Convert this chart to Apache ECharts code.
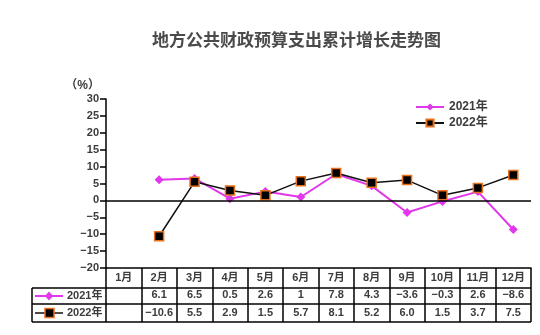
<!DOCTYPE html>
<html>
<head>
<meta charset="utf-8">
<script src="https://cdn.jsdelivr.net/npm/echarts@6/dist/echarts.min.js"></script>
<style>
  html, body { margin: 0; padding: 0; background: #fff; }
  #chart { width: 540px; height: 335px; }
</style>
</head>
<body>
<div id="chart"></div>
<script>
// Cumulative year-on-year growth of local public budget expenditure (%)
const months = ['1月', '2月', '3月', '4月', '5月', '6月', '7月', '8月', '9月', '10月', '11月', '12月'];
const growth2021 = [null, 6.1, 6.5, 0.5, 2.6, 1, 7.8, 4.3, -3.6, -0.3, 2.6, -8.6];
const growth2022 = [null, -10.6, 5.5, 2.9, 1.5, 5.7, 8.1, 5.2, 6.0, 1.5, 3.7, 7.5];
const seriesNames = ['2021年', '2022年'];
const yMin = -20, yMax = 30, yStep = 5;

const FONT = '"Liberation Sans", "Noto Sans CJK SC", sans-serif';
const TEXT = '#3c3c3c';
const MAGENTA = '#e038ea';
const ORANGE = '#e8701e';

const minus = s => String(s).replace('-', '\u2212');
const fmtRaw = v => (v == null ? '' : minus(v));
const fmtOne = v => (v == null ? '' : minus(v.toFixed(1)));

// layout of the plot and the data table beneath it
const G = { left: 106, right: 9, top: 99, bottom: 67 };
const W = 540, H = 335;
const plotBottom = H - G.bottom;
const plotRight = W - G.right;
const tableLeft = 32;
const rowLines = [plotBottom + 20, plotBottom + 36, plotBottom + 54];

const chart = echarts.init(document.getElementById('chart'));

function valueRowAxis(values, fmt, offset) {
  return {
    type: 'category', gridIndex: 0, position: 'bottom', offset: offset,
    data: months, boundaryGap: true,
    axisLine: { show: false }, axisTick: { show: false },
    axisLabel: {
      interval: 0, margin: 0, verticalAlign: 'middle',
      fontFamily: FONT, fontSize: 11, fontWeight: 'bold', color: TEXT,
      formatter: (v, i) => fmt(values[i])
    }
  };
}

function rowKey(y, isSquare) {
  const items = [
    { type: 'line', shape: { x1: 35, y1: y, x2: 63, y2: y },
      style: { stroke: isSquare ? '#111' : MAGENTA, lineWidth: isSquare ? 1.5 : 2 } }
  ];
  if (isSquare) {
    items.push({ type: 'rect', shape: { x: 45, y: y - 4.5, width: 9, height: 9 },
      style: { fill: '#000', stroke: ORANGE, lineWidth: 1.5 } });
  } else {
    items.push({ type: 'polygon', shape: { points: [[49, y - 4.5], [53, y], [49, y + 4.5], [45, y]] },
      style: { fill: MAGENTA } });
  }
  items.push({ type: 'text', x: 67, y: y,
    style: { text: seriesNames[isSquare ? 1 : 0], font: 'bold 11px ' + FONT, fill: TEXT, verticalAlign: 'middle' } });
  return items;
}

const tableGraphics = [];
rowLines.forEach(y => tableGraphics.push({
  type: 'line', shape: { x1: tableLeft, y1: y, x2: plotRight, y2: y },
  style: { stroke: '#000', lineWidth: 1.5 }
}));
tableGraphics.push({
  type: 'line', shape: { x1: tableLeft, y1: rowLines[0], x2: tableLeft, y2: rowLines[2] },
  style: { stroke: '#000', lineWidth: 1.5 }
});
tableGraphics.push(...rowKey((rowLines[0] + rowLines[1]) / 2, false));
tableGraphics.push(...rowKey((rowLines[1] + rowLines[2]) / 2, true));

chart.setOption({
  animation: false,
  backgroundColor: '#fff',
  title: {
    text: '地方公共财政预算支出累计增长走势图',
    left: 147, top: 28,
    textStyle: { fontFamily: FONT, fontSize: 17, fontWeight: 'bold', color: '#4a4a4a' }
  },
  legend: {
    data: seriesNames,
    orient: 'vertical', left: 410, top: 96,
    itemWidth: 28, itemHeight: 9, itemGap: 4,
    textStyle: { fontFamily: FONT, fontSize: 12, fontWeight: 'bold', color: TEXT }
  },
  grid: { left: G.left, right: G.right, top: G.top, bottom: G.bottom },
  xAxis: [
    {
      type: 'category', data: months, boundaryGap: true, position: 'bottom',
      axisLine: { onZero: false, lineStyle: { color: '#000', width: 1.5 } },
      axisTick: { show: true, interval: 0, length: 54, lineStyle: { color: '#000', width: 1.5 } },
      axisLabel: {
        interval: 0, margin: 10, verticalAlign: 'middle',
        fontFamily: FONT, fontSize: 11, fontWeight: 'bold', color: TEXT
      }
    },
    valueRowAxis(growth2021, fmtRaw, 27),
    valueRowAxis(growth2022, fmtOne, 45)
  ],
  yAxis: {
    type: 'value', min: yMin, max: yMax, interval: yStep,
    name: '（%）', nameLocation: 'end', nameGap: 7,
    nameTextStyle: { fontFamily: FONT, fontSize: 12, fontWeight: 'bold', color: TEXT, align: 'right', padding: [0, 6, 0, 0] },
    axisLine: { show: true, lineStyle: { color: '#000', width: 1.5 } },
    axisTick: { show: true, length: 6, lineStyle: { color: '#000', width: 1.5 } },
    splitLine: { show: false },
    axisLabel: {
      margin: 7, fontFamily: FONT, fontSize: 11, fontWeight: 'bold', color: TEXT,
      formatter: v => minus(v)
    }
  },
  graphic: tableGraphics,
  series: [
    {
      name: seriesNames[0], type: 'line', data: growth2021,
      symbol: 'diamond', symbolSize: 9,
      itemStyle: { color: MAGENTA },
      lineStyle: { color: MAGENTA, width: 2 },
      markLine: {
        silent: true, symbol: 'none', label: { show: false },
        lineStyle: { color: '#000', width: 1.5, type: 'solid' },
        data: [{ yAxis: 0 }]
      }
    },
    {
      name: seriesNames[1], type: 'line', data: growth2022,
      symbol: 'rect', symbolSize: 9,
      itemStyle: { color: '#000', borderColor: ORANGE, borderWidth: 1.5 },
      lineStyle: { color: '#111', width: 1.5 }
    }
  ]
});
</script>
</body>
</html>
